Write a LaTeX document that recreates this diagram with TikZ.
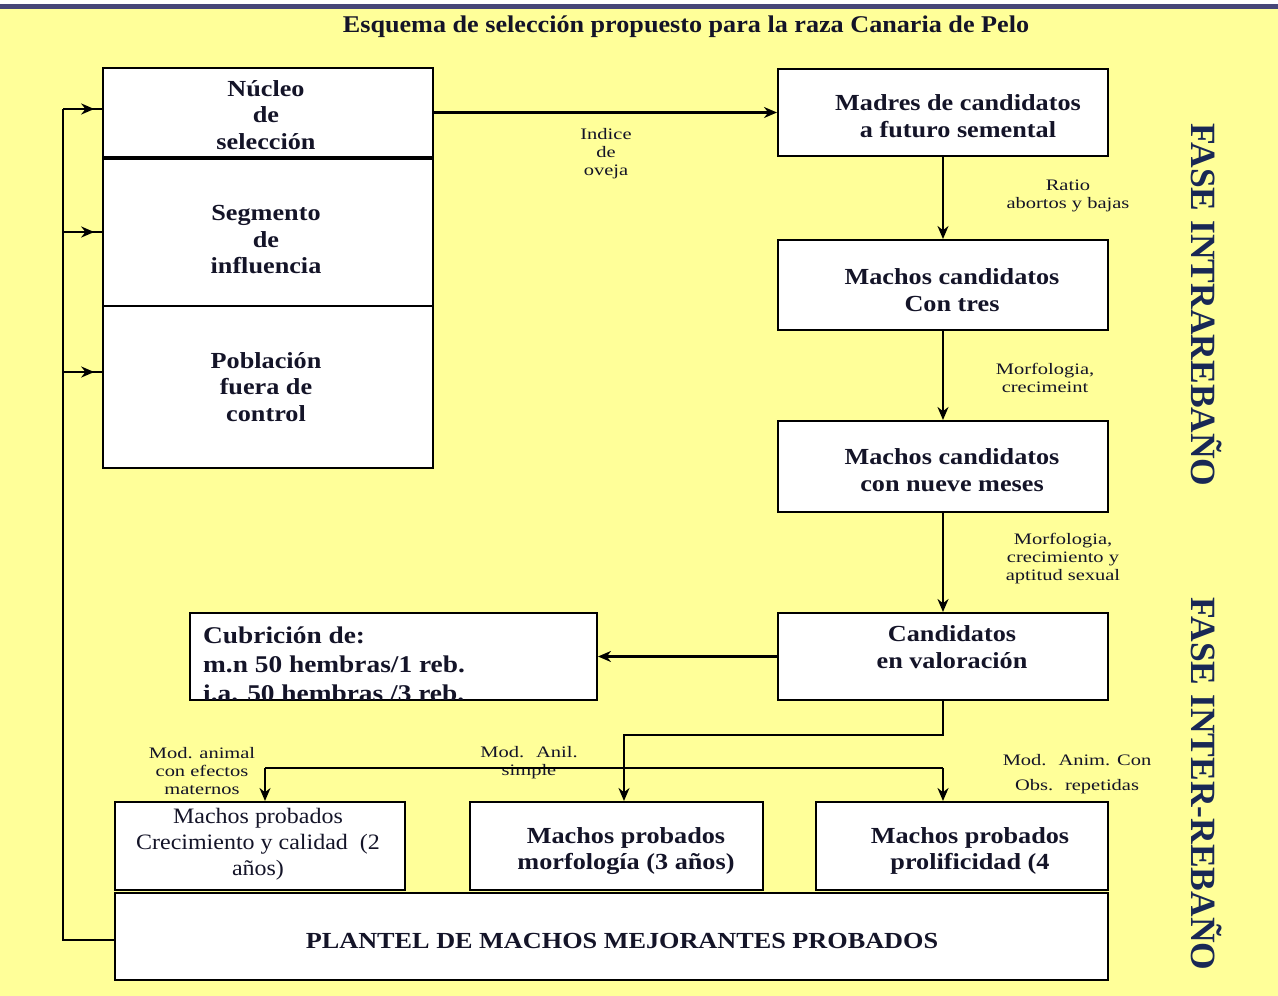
\documentclass[tikz,border=0pt]{standalone}
\usepackage{fontspec}
\setmainfont{Liberation Serif}
\newfontfamily\wfont[FakeStretch=1.14]{Liberation Serif}
\newfontfamily\tfont[FakeStretch=1.09]{Liberation Serif}
\newfontfamily\lfont[FakeStretch=1.28]{Liberation Serif}
\usetikzlibrary{arrows.meta,decorations.markings}
\definecolor{bg}{RGB}{255,255,153}
\definecolor{navy}{RGB}{25,40,85}
\definecolor{topline}{RGB}{70,70,120}
\definecolor{ink}{RGB}{20,20,40}
\tikzset{
  box/.style={draw=black, fill=white, line width=2pt, inner sep=0pt},
  btext/.style={align=center, text=ink, font=\wfont\bfseries\fontsize{23}{26.5}\selectfont, inner sep=0pt},
  rtext/.style={align=center, text=ink, font=\tfont\fontsize{22}{26}\selectfont, inner sep=0pt},
  lbl/.style={align=center, text=ink, font=\lfont\fontsize{16}{18}\selectfont, inner sep=0pt},
  conn/.style={line width=2.2pt, draw=black},
  arr/.style={conn, -{Stealth[length=13pt,width=11pt]}},
  midarr/.style={conn, postaction={decorate}, decoration={markings, mark=at position 0.8 with {\arrow{Stealth[length=13pt,width=11pt]}}}},
  fase/.style={rotate=-90, text=navy, font=\bfseries\fontsize{35.5}{35.5}\selectfont, inner sep=0pt}
}
\begin{document}
\begin{tikzpicture}[x=1pt,y=-1pt]
\useasboundingbox (0,0) rectangle (1278,996);
\fill[white] (0,0) rectangle (1278,996);
\fill[bg] (0,9) rectangle (1278,996);
\fill[topline] (0,4) rectangle (1278,9);

\node[inner sep=0pt, text=ink, font=\tfont\bfseries\fontsize{24}{24}\selectfont] (title) at (686,27) {Esquema de selección propuesto para la raza Canaria de Pelo};

% left stack
\node[box, minimum width=330, minimum height=89] (nucleo) at (268,112.5) {};
\node[box, minimum width=330, minimum height=149] (segmento) at (268,231.5) {};
\node[box, minimum width=330, minimum height=162] (poblacion) at (268,387) {};
\draw[line width=3pt] (nucleo.south west) -- (nucleo.south east);
\node[btext] (tnucleo) at (266,115) {Núcleo\\de\\selección};
\node[btext] (tsegmento) at (266,240) {Segmento\\de\\influencia};
\node[btext] (tpoblacion) at (266,387) {Población\\fuera de\\control};

% right column
\node[box, minimum width=330, minimum height=87] (madres) at (943,112.5) {};
\node[btext] (tmadres) at (958,116) {Madres de candidatos\\a futuro semental};
\node[box, minimum width=330, minimum height=90] (tres) at (943,285) {};
\node[btext] (ttres) at (952,290) {Machos candidatos\\Con tres};
\node[box, minimum width=330, minimum height=91] (nueve) at (943,466.5) {};
\node[btext] (tnueve) at (952,470) {Machos candidatos\\con nueve meses};
\node[box, minimum width=330, minimum height=87] (cand) at (943,656.5) {};
\node[btext] (tcand) at (952,647) {Candidatos\\en valoración};

% cubricion
\node[box, minimum width=407, minimum height=87] (cub) at (393.5,656.5) {};
\begin{scope}
\clip (191,614) rectangle (596,699);
\node[btext, align=left, anchor=west, font=\wfont\bfseries\fontsize{24}{29}\selectfont] (tcub) at (203,664) {Cubrición de:\\m.n 50 hembras/1 reb.\\i.a. 50 hembras /3 reb.};
\end{scope}

% bottom boxes
\node[box, minimum width=290, minimum height=88] (crec) at (260,846) {};
\node[rtext] (tcrec) at (258,844) {Machos probados\\Crecimiento y calidad~ (2\\años)};
\node[box, minimum width=293, minimum height=88] (morf) at (616.5,846) {};
\node[btext] (tmorf) at (626,851) {Machos probados\\morfología (3 años)};
\node[box, minimum width=292, minimum height=88] (prol) at (962,846) {};
\node[btext] (tprol) at (970,851) {Machos probados\\prolificidad (4};
\node[box, minimum width=993, minimum height=87] (plantel) at (611.5,936.5) {};
\node[btext] (tplantel) at (622,941) {PLANTEL DE MACHOS MEJORANTES PROBADOS};

% connectors
\draw[arr] (nucleo.east) -- (madres.west);
\node[lbl] (lindice) at (606,154) {Indice\\de\\oveja};
\draw[arr] (madres.south) -- (tres.north);
\node[lbl] (lratio) at (1068,196) {Ratio\\abortos y bajas};
\draw[arr] (tres.south) -- (nueve.north);
\node[lbl] (lmorf1) at (1045,378) {Morfologia,\\crecimeint};
\draw[arr] (nueve.south) -- (cand.north);
\node[lbl] (lmorf2) at (1063,559) {Morfologia,\\crecimiento y\\aptitud sexual};
\draw[arr] (cand.west) -- (cub.east);

% split
\node[lbl] (lmod1) at (202,771) {Mod. animal\\con efectos\\maternos};
\node[lbl] (lmod2) at (529,763) {Mod.~ Anil.\\simple};
\node[lbl, font=\lfont\fontsize{16}{25}\selectfont] (lmod3) at (1077,774) {Mod.~ Anim. Con\\Obs.~ repetidas};
\coordinate (j1) at (624,735);
\coordinate (h1) at (265,768);
\coordinate (h2) at (943,768);
\draw[arr] (cand.south) |- (j1) -- (j1 |- morf.north);
\draw[conn] (h1) -- (h2);
\draw[arr] (h1) -- (h1 |- crec.north);
\draw[arr] (h2) -- (h2 |- prol.north);

% feedback
\coordinate (sp0) at (63,940);
\coordinate (sp1) at (63,109);
\coordinate (sp2) at (63,232);
\coordinate (sp3) at (63,372);
\draw[conn] (plantel.west |- sp0) -- (sp0) -- (sp1);
\draw[midarr] (sp1) -- (nucleo.west |- sp1);
\draw[midarr] (sp2) -- (segmento.west |- sp2);
\draw[midarr] (sp3) -- (poblacion.west |- sp3);

% phase labels
\node[fase] (fase1) at (1207,305) {FASE INTRAREBAÑO};
\node[fase] (fase2) at (1207,784) {FASE INTER-REBAÑO};
\end{tikzpicture}
\end{document}
